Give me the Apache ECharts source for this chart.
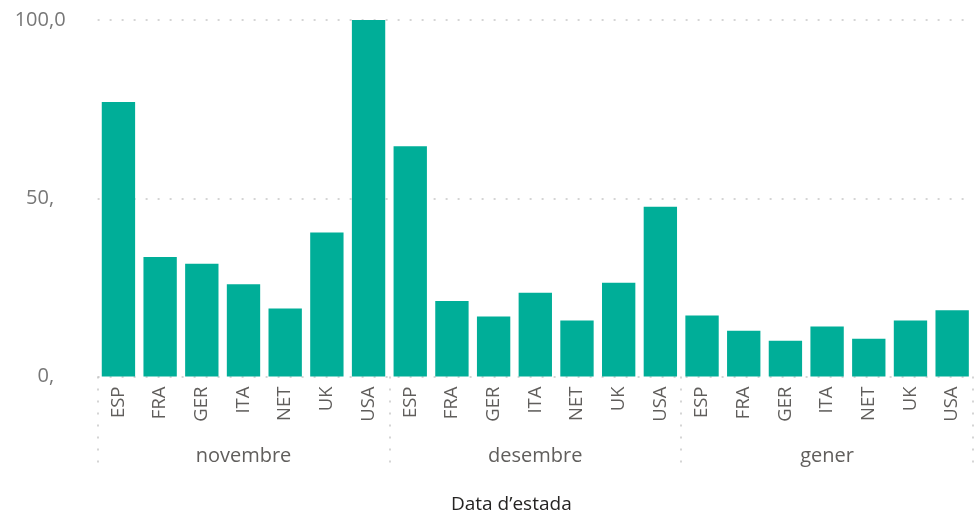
<!DOCTYPE html>
<html>
<head>
<meta charset="utf-8">
<script src="https://cdn.jsdelivr.net/npm/echarts@6/dist/echarts.min.js"></script>
<style>
  html, body { margin: 0; padding: 0; background: #fff; }
  #chart { width: 979px; height: 513px; }
</style>
</head>
<body>
<div id="chart"></div>
<script>
// mesos (grup de l'eix X) i països
const months = ['novembre', 'desembre', 'gener'];
const countries = ['ESP', 'FRA', 'GER', 'ITA', 'NET', 'UK', 'USA'];

// valors per mes, en l'ordre de countries
const novValues = [77.0, 33.5, 31.6, 25.9, 19.1, 40.4, 100.0];
const desValues = [64.6, 21.2, 16.8, 23.5, 15.7, 26.3, 47.6];
const genValues = [17.1, 12.8, 10.0, 14.0, 10.6, 15.7, 18.6];

const yTicks = [0, 50, 100];

const barColor = '#00AE98';
const labelColor = '#605E5C';
const fontFamily = '"Open Sans", "Noto Sans", sans-serif';

// categories de l'eix inferior: país repetit per cada mes
const countryAxis = [];
months.forEach(() => countries.forEach(c => countryAxis.push(c)));
const values = novValues.concat(desValues, genValues);

const chart = echarts.init(document.getElementById('chart'));

chart.setOption({
  animation: false,
  title: {
    text: 'Data d\u2019estada',
    left: 446,
    top: 490,
    textStyle: { fontFamily: fontFamily, fontSize: 19, fontWeight: 'normal', color: '#252423' }
  },
  grid: { left: 97.6, right: 6, top: 20, bottom: 136.5 },
  xAxis: [
    {
      type: 'category',
      data: countryAxis,
      position: 'bottom',
      axisLine: { show: false },
      axisTick: { show: false },
      axisLabel: {
        interval: 0,
        rotate: 90,
        margin: 10,
        fontFamily: fontFamily,
        fontSize: 18.5,
        color: labelColor
      }
    },
    {
      type: 'category',
      data: months,
      position: 'bottom',
      axisLine: { show: false },
      axisTick: {
        show: true,
        interval: 0,
        length: 94,
        lineStyle: { color: '#c8c8c8', width: 1.5, type: [2, 10] }
      },
      axisLabel: {
        interval: 0,
        margin: 70,
        fontFamily: fontFamily,
        fontSize: 20,
        color: labelColor
      }
    }
  ],
  yAxis: {
    type: 'value',
    min: yTicks[0],
    max: yTicks[yTicks.length - 1],
    interval: 50,
    axisLine: { show: false },
    axisTick: { show: false },
    splitLine: { lineStyle: { color: '#c8c8c8', width: 1.5, type: [2, 10] } },
    axisLabel: {
      margin: 32,
      fontFamily: fontFamily,
      fontSize: 20,
      color: '#777',
      formatter: v => (v === 100 ? '100,0' : v + ',{h|0}'),
      rich: {
        h: { color: 'transparent', fontFamily: fontFamily, fontSize: 20 }
      }
    }
  },
  series: [
    {
      type: 'bar',
      xAxisIndex: 0,
      data: values,
      barCategoryGap: '20%',
      itemStyle: { color: barColor }
    }
  ]
});
</script>
</body>
</html>
